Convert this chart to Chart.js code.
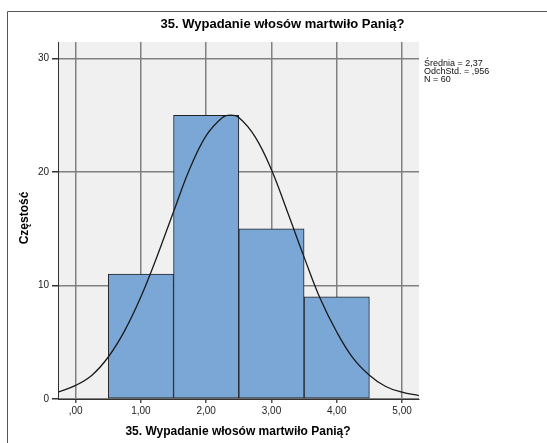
<!DOCTYPE html>
<html>
<head>
<meta charset="utf-8">
<script src="https://cdn.jsdelivr.net/npm/chart.js@4.4.1/dist/chart.umd.min.js"></script>
<style>
  html, body { margin: 0; padding: 0; background: #fff; }
  #chart { display: block; }
</style>
</head>
<body>
<canvas id="chart" width="547" height="443"></canvas>
<script>
// histogram bins (centres) and counts
const binCenters = [1, 2, 3, 4];
const binCounts = [11, 25, 15, 9];

// normal curve, values
const curveX = [-0.27, 0, 0.25, 0.5, 0.75, 1, 1.25, 1.5, 1.75, 2, 2.25, 2.37, 2.5, 2.75, 3, 3.25, 3.5, 3.75, 4, 4.25, 4.5, 4.75, 5, 5.26];
const curveY = [0.6, 1.2, 2.1, 3.7, 6.0, 9.0, 12.6, 16.5, 20.3, 23.2, 24.8, 25.0, 24.8, 23.1, 20.2, 16.4, 12.5, 8.8, 5.9, 3.6, 2.1, 1.1, 0.6, 0.3];

const titleText = '35. Wypadanie włosów martwiło Panią?';
const xTitle = '35. Wypadanie włosów martwiło Panią?';
const yTitle = 'Częstość';
const statsLines = ['Średnia = 2,37', 'OdchStd. = ,956', 'N = 60'];

const FONT = '"Liberation Sans", Arial, sans-serif';

// szare tło obszaru wykresu + ramka, tytuły, statystyki
const decorPlugin = {
    id: 'decor',
    beforeDraw(chart) {
        const { ctx, chartArea: a } = chart;
        ctx.save();
        ctx.fillStyle = '#f0f0f0';
        ctx.fillRect(a.left, a.top, a.right - a.left, a.bottom - a.top);
        ctx.restore();
    },
    afterDraw(chart) {
        const ctx = chart.ctx;
        ctx.save();
        // ramka
        ctx.strokeStyle = '#555';
        ctx.lineWidth = 1;
        ctx.beginPath();
        ctx.moveTo(7.5, 443);
        ctx.lineTo(7.5, 11.5);
        ctx.lineTo(547, 11.5);
        ctx.stroke();

        ctx.fillStyle = '#000';
        ctx.textAlign = 'center';
        ctx.textBaseline = 'middle';
        ctx.font = 'bold 13px ' + FONT;
        ctx.fillText(titleText, 282.5, 24);

        ctx.font = 'bold 12px ' + FONT;
        ctx.fillText(xTitle, 238, 432);

        ctx.save();
        ctx.translate(25, 218);
        ctx.rotate(-Math.PI / 2);
        ctx.fillText(yTitle, 0, 0);
        ctx.restore();

        ctx.textAlign = 'left';
        ctx.font = '9px ' + FONT;
        ctx.fillStyle = '#111';
        statsLines.forEach((line, i) => {
            ctx.fillText(line, 424, 64 + i * 8);
        });
        ctx.restore();
    }
};

const gridColor = '#808080';

new Chart(document.getElementById('chart'), {
    type: 'bar',
    data: {
        datasets: [
            {
                type: 'line',
                data: curveX.map((x, i) => ({ x: x, y: curveY[i] })),
                borderColor: '#1a1a1a',
                borderWidth: 1.3,
                pointRadius: 0,
                tension: 0.4,
                fill: false,
                order: 0
            },
            {
                type: 'bar',
                data: binCenters.map((x, i) => ({ x: x, y: binCounts[i] })),
                backgroundColor: '#7ba7d6',
                borderColor: '#222',
                borderWidth: 1,
                borderSkipped: false,
                barPercentage: 1,
                categoryPercentage: 1,
                grouped: false,
                order: 1
            }
        ]
    },
    options: {
        responsive: false,
        animation: false,
        layout: { padding: { left: 0, top: 42, right: 128, bottom: 0 } },
        plugins: {
            legend: { display: false },
            tooltip: { enabled: false }
        },
        scales: {
            x: {
                type: 'linear',
                min: -0.27,
                max: 5.26,
                offset: false,
                afterFit(scale) { scale.height = 44; },
                grid: {
                    color: gridColor,
                    lineWidth: 1.5,
                    offset: false,
                    tickLength: 4,
                    tickColor: '#555'
                },
                border: { color: '#333', width: 1 },
                ticks: {
                    stepSize: 1,
                    includeBounds: false,
                    padding: 2,
                    maxRotation: 0,
                    color: '#222',
                    font: { family: FONT, size: 10 },
                    callback: v => v.toFixed(2).replace('.', ',').replace(/^0/, '')
                }
            },
            y: {
                min: 0,
                max: 31.45,
                afterFit(scale) { scale.width = 58; },
                grid: {
                    color: gridColor,
                    lineWidth: 1.5,
                    tickLength: 6,
                    tickColor: '#333'
                },
                border: { color: '#333', width: 1 },
                ticks: {
                    stepSize: 10,
                    includeBounds: false,
                    padding: 3,
                    color: '#222',
                    font: { family: FONT, size: 10 }
                }
            }
        }
    },
    plugins: [decorPlugin]
});
</script>
</body>
</html>
